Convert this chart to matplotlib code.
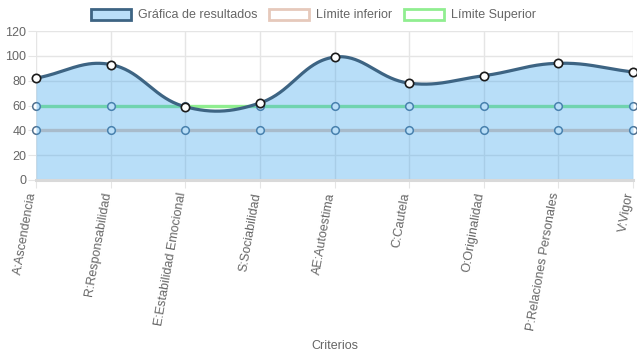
import numpy as np
import matplotlib.pyplot as plt
import matplotlib.transforms as mtransforms
from matplotlib.patches import Patch

plt.rcParams["font.family"] = ["Liberation Sans", "DejaVu Sans"]

# Datos del gráfico
criterios = [
    "A:Ascendencia",
    "R:Responsabilidad",
    "E:Estabilidad Emocional",
    "S:Sociabilidad",
    "AE:Autoestima",
    "C:Cautela",
    "O:Originalidad",
    "P:Relaciones Personales",
    "V:Vigor",
]
resultados = [82, 93, 59, 62, 99, 78, 84, 94, 87]
limite_inferior = [40, 40, 40, 40, 40, 40, 40, 40, 40]
limite_superior = [60, 60, 60, 60, 60, 60, 60, 60, 60]

W, H = 637, 359
ax_left, ax_bottom, ax_w, ax_h = 36 / W, (H - 180) / H, 597 / W, 149 / H

fig = plt.figure(figsize=(W / 100, H / 100), dpi=100)
ax = fig.add_axes([ax_left, ax_bottom, ax_w, ax_h])

n = len(criterios)
x = np.arange(n)
ax.set_xlim(0, n - 1)
ax.set_ylim(0, 120)

# escala en pixeles (para la curva tipo Chart.js)
sx = 597 / (n - 1)
sy = 149 / 120


def spline_chartjs(xs, ys, t=0.4):
    px = np.array(xs, dtype=float) * sx
    py = np.array(ys, dtype=float) * sy
    prev_c, next_c = [], []
    for i in range(len(px)):
        p0 = (px[max(i - 1, 0)], py[max(i - 1, 0)])
        p1 = (px[i], py[i])
        p2 = (px[min(i + 1, len(px) - 1)], py[min(i + 1, len(px) - 1)])
        d01 = np.hypot(p1[0] - p0[0], p1[1] - p0[1])
        d12 = np.hypot(p2[0] - p1[0], p2[1] - p1[1])
        tot = d01 + d12
        s01 = d01 / tot if tot else 0
        s12 = d12 / tot if tot else 0
        fa, fb = t * s01, t * s12
        prev_c.append((p1[0] - fa * (p2[0] - p0[0]), p1[1] - fa * (p2[1] - p0[1])))
        next_c.append((p1[0] + fb * (p2[0] - p0[0]), p1[1] + fb * (p2[1] - p0[1])))
    out_x, out_y = [], []
    s = np.linspace(0, 1, 60)
    for i in range(len(px) - 1):
        P0 = np.array([px[i], py[i]])
        C1 = np.array(next_c[i])
        C2 = np.array(prev_c[i + 1])
        P3 = np.array([px[i + 1], py[i + 1]])
        for k in s[:-1] if i < len(px) - 2 else s:
            b = ((1 - k) ** 3) * P0 + 3 * ((1 - k) ** 2) * k * C1 + 3 * (1 - k) * k**2 * C2 + k**3 * P3
            out_x.append(b[0] / sx)
            out_y.append(b[1] / sy)
    return np.array(out_x), np.array(out_y)


# Grilla
ax.grid(True, color="#e5e5e5", linewidth=1)
ax.set_axisbelow(True)
for s in ["top", "right", "left"]:
    ax.spines[s].set_visible(False)
ax.spines["bottom"].set_color("#d9d9d9")
ax.spines["bottom"].set_linewidth(2.2)
ax.spines["bottom"].set_zorder(6)

# Límites (debajo del relleno)
ax.plot(x, limite_inferior, color="#e6c9bb", linewidth=2.4, zorder=2)
ax.plot(x, limite_superior, color="#90ee90", linewidth=2.4, zorder=2)
ax.plot(x, limite_inferior, "o", ms=5.5, mfc="white", mec="#52708e", mew=1.1,
        linestyle="none", zorder=2.5, clip_on=False)
ax.plot(x, limite_superior, "o", ms=5.5, mfc="white", mec="#52708e", mew=1.1,
        linestyle="none", zorder=2.5, clip_on=False)

# Resultados
cx, cy = spline_chartjs(x, resultados)
ax.fill_between(cx, 0, cy, color=(54 / 255, 162 / 255, 235 / 255, 0.35),
                linewidth=0, zorder=3)
ax.plot(cx, cy, color="#3d6483", linewidth=2.3, zorder=4, solid_capstyle="round")
ax.plot(x, resultados, "o", ms=6, mfc="white", mec="#1b1b1b", mew=1.2,
        linestyle="none", zorder=7, clip_on=False)

# Ejes
ax.set_yticks(range(0, 121, 20))
ax.set_xticks(x)
ax.set_xticklabels(criterios, rotation=80, ha="right", va="center",
                   rotation_mode="anchor")
ax.tick_params(axis="both", colors="#e5e5e5", labelcolor="#666666",
               labelsize=9, length=6)
ax.tick_params(axis="x", pad=3)
ax.tick_params(axis="y", pad=1)
desplazar = mtransforms.ScaledTranslation(-3 / 100, 0, fig.dpi_scale_trans)
for lbl in ax.get_xticklabels():
    lbl.set_transform(lbl.get_transform() + desplazar)

fig.text(0.526, 0.036, "Criterios", ha="center", va="center",
         fontsize=9, color="#666666")

# Leyenda
handles = [
    Patch(facecolor="#b9def8", edgecolor="#3d6483", linewidth=2),
    Patch(facecolor="white", edgecolor="#e6c9bb", linewidth=2),
    Patch(facecolor="white", edgecolor="#90ee90", linewidth=2),
]
etiquetas = ["Gráfica de resultados", "Límite inferior", "Límite Superior"]
leg = fig.legend(handles, etiquetas, loc="center", bbox_to_anchor=(0.492, 0.958),
                 ncol=3, frameon=False, fontsize=9, handlelength=3.2,
                 handleheight=0.95, handletextpad=0.6, columnspacing=0.9)
for t in leg.get_texts():
    t.set_color("#666666")

fig.savefig("out.png", dpi=100)
